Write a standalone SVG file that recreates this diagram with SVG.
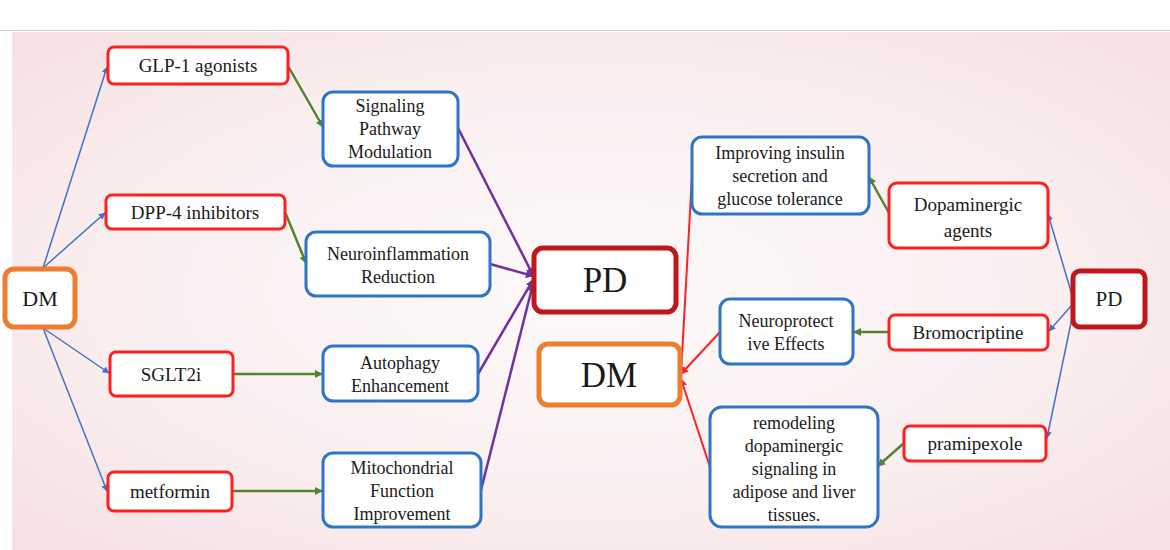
<svg xmlns="http://www.w3.org/2000/svg" width="1170" height="550" viewBox="0 0 1170 550">
<defs>
<radialGradient id="bg" cx="0.5" cy="0.5" r="0.7">
<stop offset="0" stop-color="#fdfafa"/><stop offset="0.6" stop-color="#faeeef"/><stop offset="1" stop-color="#f6e0e2"/>
</radialGradient>
<marker id="ab" viewBox="0 0 10 10" refX="9" refY="5" markerWidth="7" markerHeight="7" orient="auto" markerUnits="userSpaceOnUse"><path d="M0,0L10,5L0,10z" fill="#4472c4"/></marker>
<marker id="ag" viewBox="0 0 10 10" refX="9" refY="5" markerWidth="8" markerHeight="8" orient="auto" markerUnits="userSpaceOnUse"><path d="M0,0L10,5L0,10z" fill="#548235"/></marker>
<marker id="ap" viewBox="0 0 10 10" refX="9" refY="5" markerWidth="8" markerHeight="8" orient="auto" markerUnits="userSpaceOnUse"><path d="M0,0L10,5L0,10z" fill="#7030a0"/></marker>
<marker id="ar" viewBox="0 0 10 10" refX="9" refY="5" markerWidth="8" markerHeight="8" orient="auto" markerUnits="userSpaceOnUse"><path d="M0,0L10,5L0,10z" fill="#ff2020"/></marker>
</defs>
<style>
text{font-family:"Liberation Serif","Times New Roman",serif;fill:#1a1a1a;text-anchor:middle;font-size:19px}
text.s{font-size:18px}
text.m{font-size:22px}
text.l{font-size:35px}
.r{fill:#fff;stroke:#ff1f1f;stroke-width:3}
.b{fill:#fff;stroke:#2e75c6;stroke-width:3}
.o{fill:#fff;stroke:#ed7d31;stroke-width:5}
.d{fill:#fff;stroke:#c0161c;stroke-width:5}
.eb{stroke:#4472c4;stroke-width:1.5;fill:none;marker-end:url(#ab)}
.eg{stroke:#548235;stroke-width:2.5;fill:none;marker-end:url(#ag)}
.ep{stroke:#7030a0;stroke-width:2.5;fill:none;marker-end:url(#ap)}
.er{stroke:#ff2020;stroke-width:2;fill:none;marker-end:url(#ar)}
</style>
<rect width="1170" height="550" fill="#fff"/>
<rect x="12" y="32" width="1158" height="518" fill="url(#bg)"/>
<line x1="0" y1="30.5" x2="1170" y2="30.5" stroke="#d0d0d0" stroke-width="1"/>
<g id="connectors">
<line class="eb" x1="43" y1="268" x2="107" y2="67"/>
<line class="eb" x1="43" y1="268" x2="105" y2="213"/>
<line class="eb" x1="43" y1="328" x2="109" y2="373"/>
<line class="eb" x1="43" y1="328" x2="107" y2="491"/>
<line class="eg" x1="288" y1="66" x2="323" y2="127"/>
<line class="eg" x1="285" y1="212" x2="306" y2="263"/>
<line class="eg" x1="233" y1="374" x2="322" y2="374"/>
<line class="eg" x1="232" y1="491" x2="322" y2="491"/>
<line class="ep" x1="458" y1="128" x2="533" y2="275"/>
<line class="ep" x1="490" y1="264" x2="533" y2="276"/>
<line class="ep" x1="478" y1="374" x2="533" y2="280"/>
<line class="ep" x1="481" y1="490" x2="533" y2="284"/>
<line class="er" x1="692" y1="176" x2="681" y2="374"/>
<line class="er" x1="720" y1="332" x2="681" y2="374"/>
<line class="er" x1="710" y1="467" x2="681" y2="379"/>
<line class="eg" x1="889" y1="213" x2="869" y2="177"/>
<line class="eg" x1="889" y1="332" x2="854" y2="332"/>
<line class="eg" x1="904" y1="443" x2="878" y2="466"/>
<line class="eb" x1="1072" y1="295" x2="1048" y2="214"/>
<line class="eb" x1="1072" y1="305" x2="1049" y2="331"/>
<line class="eb" x1="1072" y1="318" x2="1047" y2="438"/>
</g>
<g id="dm-left"><rect class="o" x="5" y="269" width="70" height="58" rx="9"/><text class="m" x="40" y="306">DM</text></g>
<g id="glp1"><rect class="r" x="108" y="47" width="180" height="37" rx="6"/><text x="198" y="72">GLP-1 agonists</text></g>
<g id="dpp4"><rect class="r" x="106" y="195" width="179" height="34" rx="6"/><text x="195" y="219">DPP-4 inhibitors</text></g>
<g id="sglt2i"><rect class="r" x="110" y="352" width="123" height="44" rx="6"/><text x="171" y="381">SGLT2i</text></g>
<g id="metformin"><rect class="r" x="108" y="472" width="124" height="39" rx="6"/><text x="170" y="498">metformin</text></g>
<g id="signaling"><rect class="b" x="323" y="92" width="135" height="74" rx="10"/><text class="s" x="390" y="112">Signaling</text><text class="s" x="390" y="135">Pathway</text><text class="s" x="390" y="158">Modulation</text></g>
<g id="neuroinflammation"><rect class="b" x="306" y="232" width="184" height="64" rx="10"/><text class="s" x="398" y="260">Neuroinflammation</text><text class="s" x="398" y="283">Reduction</text></g>
<g id="autophagy"><rect class="b" x="323" y="346" width="155" height="55" rx="10"/><text class="s" x="400" y="369">Autophagy</text><text class="s" x="400" y="392">Enhancement</text></g>
<g id="mitochondrial"><rect class="b" x="323" y="453" width="158" height="74" rx="10"/><text class="s" x="402" y="474">Mitochondrial</text><text class="s" x="402" y="497">Function</text><text class="s" x="402" y="520">Improvement</text></g>
<g id="pd-center"><rect class="d" x="534" y="248" width="142" height="64" rx="9"/><text class="l" x="605" y="292">PD</text></g>
<g id="dm-center"><rect class="o" x="539" y="344" width="141" height="61" rx="9"/><text class="l" x="609" y="387">DM</text></g>
<g id="improving"><rect class="b" x="692" y="137" width="177" height="77" rx="10"/><text class="s" x="780" y="159">Improving insulin</text><text class="s" x="780" y="182">secretion and</text><text class="s" x="780" y="205">glucose tolerance</text></g>
<g id="neuroprotective"><rect class="b" x="720" y="299" width="133" height="65" rx="10"/><text class="s" x="786" y="327">Neuroprotect</text><text class="s" x="786" y="350">ive Effects</text></g>
<g id="remodeling"><rect class="b" x="710" y="407" width="168" height="120" rx="12"/><text class="s" x="794" y="429">remodeling</text><text class="s" x="794" y="452">dopaminergic</text><text class="s" x="794" y="475">signaling in</text><text class="s" x="794" y="498">adipose and liver</text><text class="s" x="794" y="521">tissues.</text></g>
<g id="dopaminergic"><rect class="r" x="889" y="183" width="159" height="65" rx="8"/><text x="968" y="211">Dopaminergic</text><text x="968" y="237">agents</text></g>
<g id="bromocriptine"><rect class="r" x="889" y="315" width="159" height="35" rx="6"/><text x="968" y="339">Bromocriptine</text></g>
<g id="pramipexole"><rect class="r" x="904" y="426" width="142" height="35" rx="6"/><text x="975" y="450">pramipexole</text></g>
<g id="pd-right"><rect class="d" x="1073" y="271" width="72" height="56" rx="7"/><text x="1109" y="306" style="font-size:21px">PD</text></g>
</svg>
